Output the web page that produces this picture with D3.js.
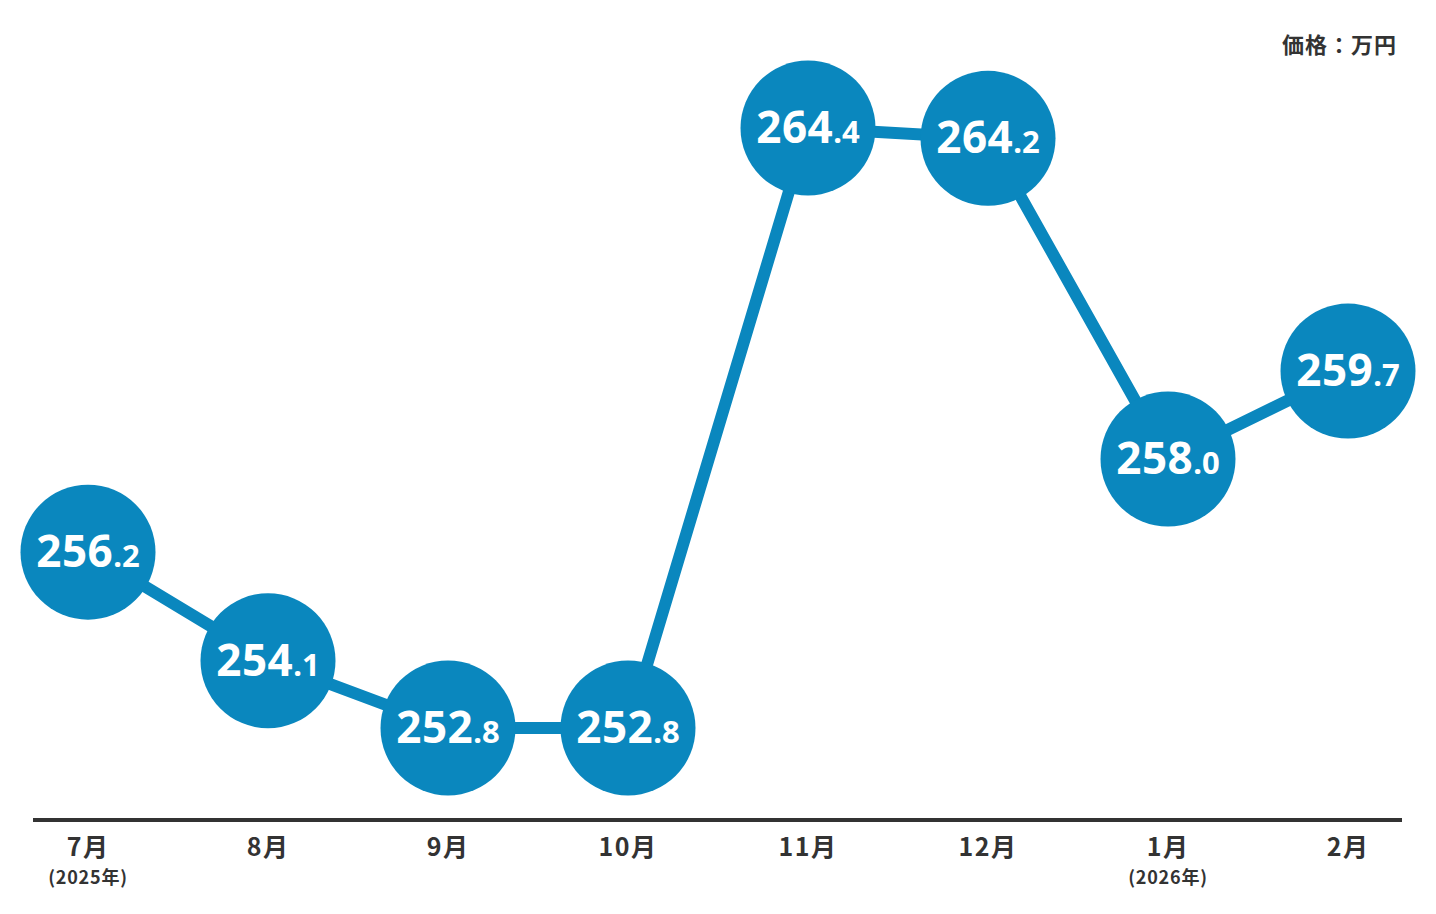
<!DOCTYPE html>
<html><head><meta charset="utf-8">
<script src="https://cdn.jsdelivr.net/npm/d3@7"></script>
<style>
html,body{margin:0;padding:0;background:#fff;}
svg{display:block;font-family:"Noto Sans CJK JP","Noto Sans",sans-serif;}
</style></head>
<body><svg id="c" width="1436" height="914"></svg>
<script>
const months = ["7月","8月","9月","10月","11月","12月","1月","2月"];
const years = ["(2025年)","","","","","","(2026年)",""];
const prices = [256.2,254.1,252.8,252.8,264.4,264.2,258.0,259.7];
const unitLabel = "価格：万円";

const svg = d3.select("#c");
const x = d3.scalePoint().domain(months).range([88,1348]);
const y = d3.scaleLinear().domain([252.8,264.4]).range([728,128]);
const data = months.map((m,i)=>({m, v:prices[i], yr:years[i]}));
const blue = "#0A87BE";

// unit label
svg.append("text").attr("x",1397).attr("y",53).attr("text-anchor","end")
  .attr("font-size",22).attr("font-weight",700).attr("letter-spacing",1).attr("fill","#333").text(unitLabel);

// axis line
svg.append("line").attr("x1",33).attr("x2",1402).attr("y1",820).attr("y2",820)
  .attr("stroke","#333").attr("stroke-width",4);

// line
svg.append("path").datum(data)
  .attr("d", d3.line().x(d=>x(d.m)).y(d=>y(d.v)))
  .attr("fill","none").attr("stroke",blue).attr("stroke-width",12);

// circles
const g = svg.selectAll("g.pt").data(data).enter().append("g")
  .attr("transform", d=>`translate(${x(d.m)},${y(d.v)})`);
g.append("circle").attr("r",67.5).attr("fill",blue);
const t = g.append("text").attr("text-anchor","middle").attr("y",15)
  .attr("fill","#fff").attr("font-family","'Noto Sans', sans-serif").attr("font-weight",700);
t.append("tspan").attr("font-size",44).attr("letter-spacing",0.5).text(d=>d.v.toFixed(1).split(".")[0]);
t.append("tspan").attr("font-size",31).text(d=>"."+d.v.toFixed(1).split(".")[1]);

// month labels
const ax = svg.selectAll("g.lab").data(data).enter().append("g")
  .attr("transform", d=>`translate(${x(d.m)},0)`);
ax.append("text").attr("y",856).attr("text-anchor","middle")
  .attr("font-size",25).attr("font-weight",700).attr("letter-spacing",1.5).attr("fill","#333").text(d=>d.m);
ax.append("text").attr("y",884).attr("text-anchor","middle")
  .attr("font-size",18).attr("font-weight",700).attr("letter-spacing",0.8).attr("fill","#333").text(d=>d.yr);
</script></body></html>
